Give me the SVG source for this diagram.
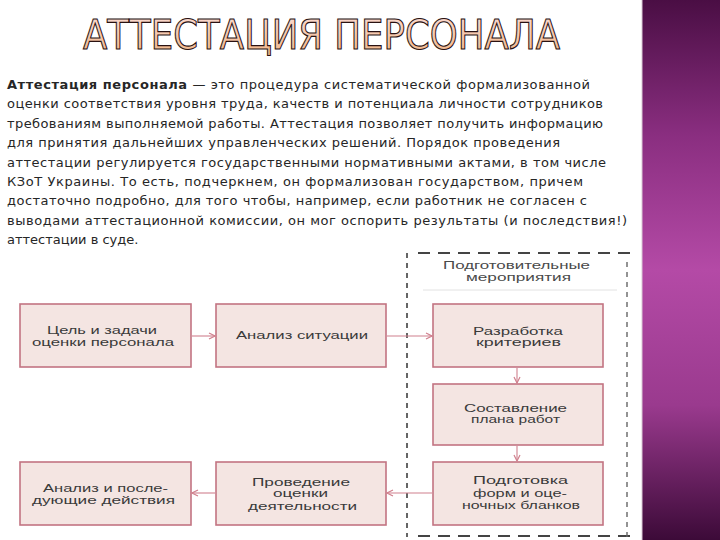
<svg xmlns="http://www.w3.org/2000/svg" width="720" height="540" viewBox="0 0 720 540">
<defs>
<linearGradient id="purple" x1="0" y1="0" x2="0" y2="1">
<stop offset="0" stop-color="#4a0e44"/>
<stop offset="0.25" stop-color="#8a2e80"/>
<stop offset="0.5" stop-color="#b44aa6"/>
<stop offset="0.75" stop-color="#9a3a8e"/>
<stop offset="1" stop-color="#3c0a38"/>
</linearGradient>
<linearGradient id="titleFill" x1="0" y1="0" x2="0" y2="1">
<stop offset="0" stop-color="#fbdcd6"/>
<stop offset="1" stop-color="#f2b482"/>
</linearGradient>
<marker id="arr" viewBox="0 0 8 8" refX="7" refY="4" markerWidth="8" markerHeight="8" markerUnits="userSpaceOnUse" orient="auto">
<path d="M1,1 L7,4 L1,7" fill="none" stroke="#d0808e" stroke-width="1.2"/>
</marker>
<style>
.body{font-family:"DejaVu Sans",sans-serif;font-size:13px;fill:#262626}
.node rect{fill:#f4e5e2;stroke:#c27482;stroke-width:1.6}
.lbl{font-family:"Liberation Sans",Arial,sans-serif;font-size:11.5px;fill:#3a3a3a}
.hdr{font-family:"Liberation Sans",Arial,sans-serif;font-size:11.5px;fill:#4a4a4a}
.conn{fill:none;stroke:#d0808e;stroke-width:1.1}
</style>
</defs>
<rect x="0" y="0" width="720" height="540" fill="#ffffff"/>
<rect x="642" y="0" width="78" height="540" fill="url(#purple)"/>
<line x1="642" y1="0" x2="642" y2="540" stroke="#d8c8d4" stroke-width="1"/>

<text x="83" y="49" font-family="DejaVu Sans, sans-serif" font-size="40" textLength="477" lengthAdjust="spacingAndGlyphs" fill="url(#titleFill)" stroke="#2a1212" stroke-width="1.1">АТТЕСТАЦИЯ ПЕРСОНАЛА</text>

<g class="body">
<text x="7" y="89" textLength="583" lengthAdjust="spacing"><tspan font-weight="bold">Аттестация персонала</tspan> — это процедура систематической формализованной</text>
<text x="7" y="108.4" textLength="596" lengthAdjust="spacing">оценки соответствия уровня труда, качеств и потенциала личности сотрудников</text>
<text x="7" y="127.8" textLength="596" lengthAdjust="spacing">требованиям выполняемой работы. Аттестация позволяет получить информацию</text>
<text x="7" y="147.2" textLength="553" lengthAdjust="spacing">для принятия дальнейших управленческих решений. Порядок проведения</text>
<text x="7" y="166.6" textLength="599" lengthAdjust="spacing">аттестации регулируется государственными нормативными актами, в том числе</text>
<text x="7" y="186" textLength="576" lengthAdjust="spacing">КЗоТ Украины. То есть, подчеркнем, он формализован государством, причем</text>
<text x="7" y="205.4" textLength="580" lengthAdjust="spacing">достаточно подробно, для того чтобы, например, если работник не согласен с</text>
<text x="7" y="224.8" textLength="620" lengthAdjust="spacing">выводами аттестационной комиссии, он мог оспорить результаты (и последствия!)</text>
<text x="7" y="244.2">аттестации в суде.</text>
</g>

<g id="prep-group">
<line x1="418" y1="253" x2="630" y2="253" stroke="#444" stroke-width="1.8" stroke-dasharray="12,8"/>
<line x1="418" y1="536" x2="630" y2="536" stroke="#444" stroke-width="1.8" stroke-dasharray="12,8"/>
<line x1="407" y1="253" x2="407" y2="537" stroke="#555" stroke-width="1.8" stroke-dasharray="5,5"/>
<line x1="627" y1="262" x2="627" y2="537" stroke="#666" stroke-width="1.4" stroke-dasharray="5,5"/>
<text class="hdr" x="516.5" y="269" text-anchor="middle" textLength="147" lengthAdjust="spacingAndGlyphs">Подготовительные</text>
<text class="hdr" x="518.5" y="281" text-anchor="middle" textLength="105" lengthAdjust="spacingAndGlyphs">мероприятия</text>
<line x1="423" y1="290" x2="617" y2="290" stroke="#e2e2e2" stroke-width="1"/>
</g>

<g id="n1" class="node">
<rect x="20" y="304" width="171" height="63"/>
<text class="lbl" x="102" y="334" text-anchor="middle" textLength="110" lengthAdjust="spacingAndGlyphs">Цель и задачи</text>
<text class="lbl" x="103" y="346" text-anchor="middle" textLength="142" lengthAdjust="spacingAndGlyphs">оценки персонала</text>
</g>
<g id="n2" class="node">
<rect x="216" y="304" width="170" height="63"/>
<text class="lbl" x="302" y="339" text-anchor="middle" textLength="132" lengthAdjust="spacingAndGlyphs">Анализ ситуации</text>
</g>
<g id="n3" class="node">
<rect x="433" y="304" width="170" height="63"/>
<text class="lbl" x="518" y="335" text-anchor="middle" textLength="90" lengthAdjust="spacingAndGlyphs">Разработка</text>
<text class="lbl" x="518.5" y="346" text-anchor="middle" textLength="85" lengthAdjust="spacingAndGlyphs">критериев</text>
</g>
<g id="n4" class="node">
<rect x="433" y="384" width="170" height="61"/>
<text class="lbl" x="515.5" y="412" text-anchor="middle" textLength="103" lengthAdjust="spacingAndGlyphs">Составление</text>
<text class="lbl" x="515.5" y="423" text-anchor="middle" textLength="89" lengthAdjust="spacingAndGlyphs">плана работ</text>
</g>
<g id="n5" class="node">
<rect x="433" y="462" width="170" height="63"/>
<text class="lbl" x="520.5" y="484" text-anchor="middle" textLength="95" lengthAdjust="spacingAndGlyphs">Подготовка</text>
<text class="lbl" x="520" y="497" text-anchor="middle" textLength="94" lengthAdjust="spacingAndGlyphs">форм и оце-</text>
<text class="lbl" x="521" y="509" text-anchor="middle" textLength="118" lengthAdjust="spacingAndGlyphs">ночных бланков</text>
</g>
<g id="n6" class="node">
<rect x="216" y="462" width="170" height="63"/>
<text class="lbl" x="301" y="486" text-anchor="middle" textLength="98" lengthAdjust="spacingAndGlyphs">Проведение</text>
<text class="lbl" x="300.5" y="497" text-anchor="middle" textLength="55" lengthAdjust="spacingAndGlyphs">оценки</text>
<text class="lbl" x="302.5" y="510" text-anchor="middle" textLength="109" lengthAdjust="spacingAndGlyphs">деятельности</text>
</g>
<g id="n7" class="node">
<rect x="20" y="462" width="171" height="63"/>
<text class="lbl" x="105.5" y="492" text-anchor="middle" textLength="125" lengthAdjust="spacingAndGlyphs">Анализ и после-</text>
<text class="lbl" x="103.5" y="504" text-anchor="middle" textLength="143" lengthAdjust="spacingAndGlyphs">дующие действия</text>
</g>

<g id="connectors">
<line class="conn" x1="192" y1="336" x2="215" y2="336" marker-end="url(#arr)"/>
<line class="conn" x1="387" y1="336" x2="432" y2="336" marker-end="url(#arr)"/>
<line class="conn" x1="517" y1="368" x2="517" y2="383" marker-end="url(#arr)"/>
<line class="conn" x1="517" y1="446" x2="517" y2="461" marker-end="url(#arr)"/>
<line class="conn" x1="432" y1="493" x2="387" y2="493" marker-end="url(#arr)"/>
<line class="conn" x1="215" y1="493" x2="192" y2="493" marker-end="url(#arr)"/>
</g>
</svg>
